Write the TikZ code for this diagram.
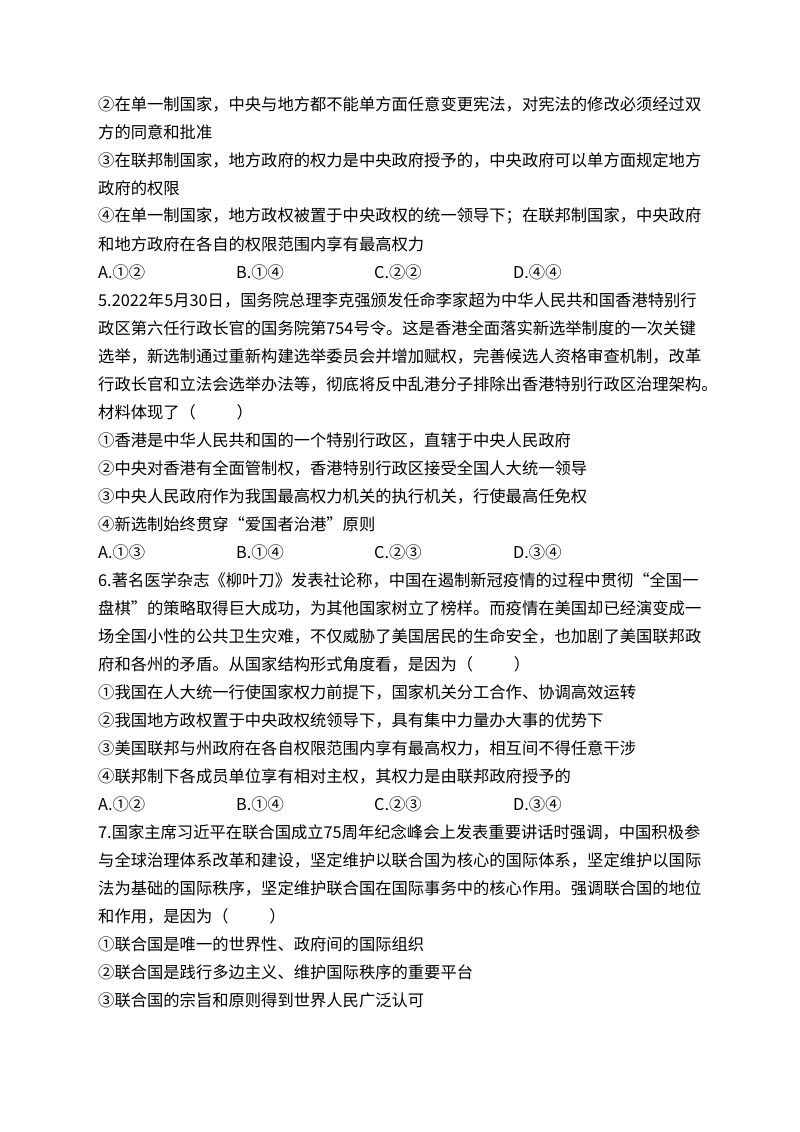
\documentclass[tikz,border=0pt]{standalone}
\usepackage{fontspec}
\setmainfont{Noto Sans CJK SC}
\begin{document}
\begin{tikzpicture}[x=1pt,y=1pt,ln/.style={anchor=west,inner sep=0pt,font=\fontsize{16.3}{20}\selectfont}]
\useasboundingbox (0,0) rectangle (800,-1132);
\def\L#1#2#3{\node[ln] (#1) at (98,{-104-28*#2}) {#3};}
\def\O#1#2#3#4#5{\node[ln] (#1a) at (98,{-104-28*#2}) {#3};\node[ln] (#1b) at (236,{-104-28*#2}) {#4};\node[ln] (#1c) at (374,{-104-28*#2}) {#5};}
\L{l0}{0}{②在单一制国家，中央与地方都不能单方面任意变更宪法，对宪法的修改必须经过双}
\L{l1}{1}{方的同意和批准}
\L{l2}{2}{③在联邦制国家，地方政府的权力是中央政府授予的，中央政府可以单方面规定地方}
\L{l3}{3}{政府的权限}
\L{l4}{4}{④在单一制国家，地方政权被置于中央政权的统一领导下；在联邦制国家，中央政府}
\L{l5}{5}{和地方政府在各自的权限范围内享有最高权力}
\O{o1}{6}{A.①②}{B.①④}{C.②②}\node[ln] (o1d) at (513,{-104-28*6}) {D.④④};
\L{l7}{7}{5.2022年5月30日，国务院总理李克强颁发任命李家超为中华人民共和国香港特别行}
\L{l8}{8}{政区第六任行政长官的国务院第754号令。这是香港全面落实新选举制度的一次关键}
\L{l9}{9}{选举，新选制通过重新构建选举委员会并增加赋权，完善候选人资格审查机制，改革}
\L{l10}{10}{行政长官和立法会选举办法等，彻底将反中乱港分子排除出香港特别行政区治理架构。}
\L{l11}{11}{材料体现了（\hspace{2.5em}）}
\L{l12}{12}{①香港是中华人民共和国的一个特别行政区，直辖于中央人民政府}
\L{l13}{13}{②中央对香港有全面管制权，香港特别行政区接受全国人大统一领导}
\L{l14}{14}{③中央人民政府作为我国最高权力机关的执行机关，行使最高任免权}
\L{l15}{15}{④新选制始终贯穿“爱国者治港”原则}
\O{o2}{16}{A.①③}{B.①④}{C.②③}\node[ln] (o2d) at (513,{-104-28*16}) {D.③④};
\L{l17}{17}{6.著名医学杂志《柳叶刀》发表社论称，中国在遏制新冠疫情的过程中贯彻“全国一}
\L{l18}{18}{盘棋”的策略取得巨大成功，为其他国家树立了榜样。而疫情在美国却已经演变成一}
\L{l19}{19}{场全国小性的公共卫生灾难，不仅威胁了美国居民的生命安全，也加剧了美国联邦政}
\L{l20}{20}{府和各州的矛盾。从国家结构形式角度看，是因为（\hspace{2.5em}）}
\L{l21}{21}{①我国在人大统一行使国家权力前提下，国家机关分工合作、协调高效运转}
\L{l22}{22}{②我国地方政权置于中央政权统领导下，具有集中力量办大事的优势下}
\L{l23}{23}{③美国联邦与州政府在各自权限范围内享有最高权力，相互间不得任意干涉}
\L{l24}{24}{④联邦制下各成员单位享有相对主权，其权力是由联邦政府授予的}
\O{o3}{25}{A.①②}{B.①④}{C.②③}\node[ln] (o3d) at (513,{-104-28*25}) {D.③④};
\L{l26}{26}{7.国家主席习近平在联合国成立75周年纪念峰会上发表重要讲话时强调，中国积极参}
\L{l27}{27}{与全球治理体系改革和建设，坚定维护以联合国为核心的国际体系，坚定维护以国际}
\L{l28}{28}{法为基础的国际秩序，坚定维护联合国在国际事务中的核心作用。强调联合国的地位}
\L{l29}{29}{和作用，是因为（\hspace{2.5em}）}
\L{l30}{30}{①联合国是唯一的世界性、政府间的国际组织}
\L{l31}{31}{②联合国是践行多边主义、维护国际秩序的重要平台}
\L{l32}{32}{③联合国的宗旨和原则得到世界人民广泛认可}
\end{tikzpicture}
\end{document}
